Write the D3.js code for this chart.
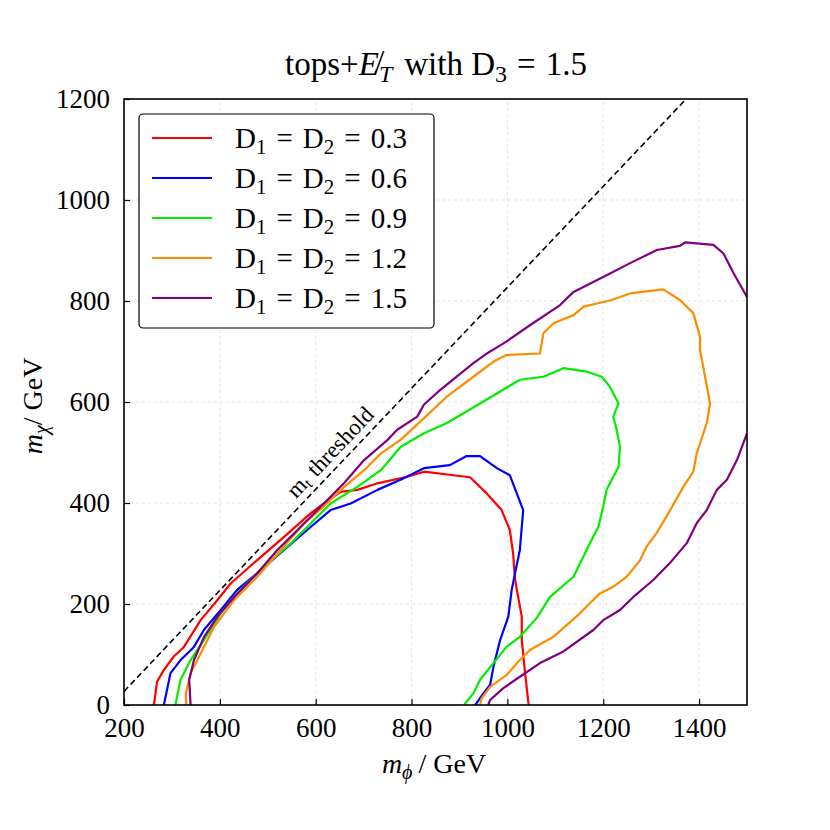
<!DOCTYPE html>
<html>
<head>
<meta charset="UTF-8">
<script src="https://cdn.jsdelivr.net/npm/d3@7"></script>
<style>
body{ margin:0; background:#fff; font-family:"Liberation Serif", "DejaVu Serif", serif; }
.grid line{ stroke:#dcdcdc; stroke-dasharray:3,3; stroke-width:0.8; }
.axis path{ display:none; }
.axis line{ stroke:#000; stroke-width:1.2; }
.axis text{ font-family:"Liberation Serif", serif; font-size:27px; fill:#000; }
</style>
</head>
<body>
<script>

// contour data, [m_phi, m_chi] in GeV
var curve03 = [[261,0],[263,4],[269,46],[283,69],[304,96],[325,115],[360,168],[395,208],[423,241],[478,287],[534,333],[590,380],[617,399],[652,422],[687,426],[729,439],[791,452],[826,462],[887,455],[922,451],[957,419],[988,386],[1005,347],[1012,300],[1016,248],[1030,175],[1030,129],[1037,63],[1044,3],[1045,0]];
var curve06 = [[283,0],[284,4],[297,63],[318,89],[346,115],[367,149],[402,188],[436,228],[478,261],[534,307],[590,353],[631,386],[673,399],[729,426],[777,446],[826,469],[880,475],[915,493],[943,493],[978,469],[1005,455],[1033,386],[1026,307],[1016,261],[1009,228],[1002,175],[985,129],[971,76],[964,40],[950,23],[933,0]];
var curve09 = [[307,0],[308,4],[318,50],[339,89],[367,129],[402,182],[436,221],[492,274],[548,320],[590,360],[631,399],[687,432],[736,465],[777,511],[826,538],[873,558],[943,597],[1026,644],[1075,650],[1117,667],[1166,660],[1197,650],[1214,630],[1232,597],[1221,571],[1228,545],[1235,511],[1232,472],[1207,426],[1200,393],[1190,353],[1179,333],[1152,281],[1138,254],[1089,214],[1061,172],[1026,135],[998,115],[971,83],[943,50],[929,23],[912,3],[910,0]];
var curve12 = [[330,0],[329,23],[339,63],[360,102],[388,155],[430,208],[478,254],[527,307],[576,360],[617,393],[652,426],[701,465],[736,498],[777,525],[826,568],[873,610],[929,650],[971,680],[998,693],[1068,696],[1075,736],[1096,756],[1138,772],[1159,789],[1214,801],[1256,815],[1325,823],[1360,802],[1388,776],[1402,729],[1402,703],[1423,597],[1416,558],[1395,498],[1388,462],[1367,432],[1332,373],[1311,340],[1290,313],[1277,287],[1249,254],[1221,234],[1193,221],[1152,182],[1096,135],[1047,109],[1026,89],[998,59],[964,36],[946,13],[943,0]];
// null splits the part that leaves through the right edge
var curve15 = [[339,0],[336,50],[346,89],[367,135],[395,175],[430,214],[478,261],[520,307],[569,353],[617,399],[659,439],[701,485],[750,525],[770,545],[812,571],[826,595],[860,624],[929,677],[957,696],[992,716],[1047,752],[1110,792],[1138,818],[1207,851],[1256,875],[1312,901],[1360,909],[1371,916],[1430,911],[1451,894],[1472,855],[1500,808],
  null,
  [1500,538],[1479,485],[1458,446],[1437,426],[1416,386],[1395,360],[1374,320],[1339,281],[1305,248],[1263,214],[1235,188],[1200,168],[1180,149],[1117,106],[1068,83],[1026,56],[991,33],[964,10],[960,0]];

var labels = ["0.3","0.6","0.9","1.2","1.5"];
var colors = ["#ff0000","#0000ff","#00ee00","#ff8c00","#800080"];
var curves = [curve03, curve06, curve09, curve12, curve15];

var xTicks = [200,400,600,800,1000,1200,1400];
var yTicks = [0,200,400,600,800,1000,1200];
var mTop = 173; // threshold m_chi = m_phi - m_t

var W = 830, H = 830;
var margin = {top:99, right:83, bottom:125, left:124};

var x = d3.scaleLinear().domain([200,1500]).range([margin.left, W-margin.right]);
var y = d3.scaleLinear().domain([0,1200]).range([H-margin.bottom, margin.top]);

var svg = d3.select("body").append("svg")
    .attr("width",W)
    .attr("height",H);

svg.append("defs").append("clipPath").attr("id","plot")
  .append("rect")
    .attr("x",margin.left).attr("y",margin.top)
    .attr("width",x(1500)-x(200)).attr("height",y(0)-y(1200));

// grid
svg.append("g").attr("class","grid")
  .selectAll("line").data(xTicks).enter().append("line")
    .attr("x1",d=>x(d)).attr("x2",d=>x(d))
    .attr("y1",y(0)).attr("y2",y(1200));
svg.append("g").attr("class","grid")
  .selectAll("line").data(yTicks).enter().append("line")
    .attr("y1",d=>y(d)).attr("y2",d=>y(d))
    .attr("x1",x(200)).attr("x2",x(1500));

// axes, ticks pointing in
svg.append("g").attr("class","axis")
    .attr("transform","translate(0,"+y(0)+")")
    .call(d3.axisBottom(x).tickValues(xTicks).tickSizeInner(-6).tickSizeOuter(0).tickPadding(13).tickFormat(d3.format("d")));
svg.append("g").attr("class","axis")
    .attr("transform","translate("+x(200)+",0)")
    .call(d3.axisLeft(y).tickValues(yTicks).tickSizeInner(-6).tickSizeOuter(0).tickPadding(14).tickFormat(d3.format("d")));

// threshold line
svg.append("line")
    .attr("clip-path","url(#plot)")
    .attr("x1",x(200)).attr("y1",y(200-mTop))
    .attr("x2",x(1500)).attr("y2",y(1500-mTop))
    .attr("stroke","#000").attr("stroke-width",1.6)
    .attr("stroke-dasharray","6,3.5");

var ang = -Math.atan2(y(0)-y(100), x(300)-x(200))*180/Math.PI;
var thr = svg.append("text")
    .attr("transform","translate("+x(634)+","+y(497)+") rotate("+ang+")")
    .attr("text-anchor","middle")
    .attr("font-size",23)
    .attr("dominant-baseline","middle");
thr.append("tspan").text("m");
thr.append("tspan").attr("font-size",16).attr("dy",4).text("t");
thr.append("tspan").attr("dy",-4).attr("dx",7).text("threshold");

// contours
var line = d3.line()
    .defined(d=>d!==null)
    .x(d=>x(d[0])).y(d=>y(d[1]));

svg.append("g").attr("clip-path","url(#plot)")
  .selectAll("path").data(curves).enter().append("path")
    .attr("d",line)
    .attr("fill","none")
    .attr("stroke",(d,i)=>colors[i])
    .attr("stroke-width",2.2)
    .attr("stroke-linejoin","round");

// frame
svg.append("rect")
    .attr("x",x(200)).attr("y",y(1200))
    .attr("width",x(1500)-x(200)).attr("height",y(0)-y(1200))
    .attr("fill","none").attr("stroke","#000").attr("stroke-width",1.6);

// legend
var leg = svg.append("g");
leg.append("rect")
    .attr("x",139).attr("y",114).attr("width",295).attr("height",214)
    .attr("rx",4).attr("fill","#fff").attr("stroke","#000").attr("stroke-width",1.2);
labels.forEach(function(l,i){
  var yy = 138 + i*40;
  leg.append("line").attr("x1",152).attr("x2",212).attr("y1",yy).attr("y2",yy)
     .attr("stroke",colors[i]).attr("stroke-width",2.2);
  var t = leg.append("text").attr("x",235).attr("y",yy+10).attr("font-size",29);
  t.append("tspan").text("D");
  t.append("tspan").attr("font-size",21).attr("dy",6).text("1");
  t.append("tspan").attr("dy",-6).attr("dx",10).text("=");
  t.append("tspan").attr("dx",10).text("D");
  t.append("tspan").attr("font-size",21).attr("dy",6).text("2");
  t.append("tspan").attr("dy",-6).attr("dx",10).text("=");
  t.append("tspan").attr("dx",10).text(l);
});

// title
var title = svg.append("text").attr("x",436).attr("y",75)
    .attr("text-anchor","middle").attr("font-size",33);
title.append("tspan").text("tops+");
title.append("tspan").attr("font-style","italic").text("E\u0338");
title.append("tspan").attr("font-style","italic").attr("font-size",24).attr("dy",7).text("T");
title.append("tspan").attr("dy",-7).attr("dx",12).text("with D");
title.append("tspan").attr("font-size",24).attr("dy",7).text("3");
title.append("tspan").attr("dy",-7).attr("dx",10).text("=");
title.append("tspan").attr("dx",10).text("1.5");

// axis labels
var xl = svg.append("text").attr("x",434).attr("y",773)
    .attr("text-anchor","middle").attr("font-size",28);
xl.append("tspan").attr("font-style","italic").text("m");
xl.append("tspan").attr("font-style","italic").attr("font-size",20).attr("dy",6).text("\u03d5");
xl.append("tspan").attr("dy",-6).attr("dx",6).text("/ GeV");

var yl = svg.append("text")
    .attr("transform","translate(42,406) rotate(-90)")
    .attr("text-anchor","middle").attr("font-size",28);
yl.append("tspan").attr("font-style","italic").text("m");
yl.append("tspan").attr("font-style","italic").attr("font-size",20).attr("dy",6).text("\u03c7");
yl.append("tspan").attr("dy",-6).text("/ GeV");

</script>
</body>
</html>
